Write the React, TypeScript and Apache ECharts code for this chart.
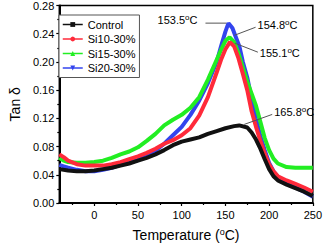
import React, { useEffect, useRef } from 'react';
import * as echarts from 'echarts';

const seriesNames = ['Control', 'Si10-30%', 'Si15-30%', 'Si20-30%'];
const seriesColors = ['#111111', '#ff2a3a', '#22ee22', '#3344ee'];
const seriesSymbols = ['rect', 'circle', 'triangle', 'path://M0,0 L10,0 L5,9 Z'];

const controlT = [-40, -30, -20, -10, 0, 10, 20, 30, 40, 50, 60, 70, 80, 90, 100, 110, 120, 130, 140, 150, 160, 165.8, 175, 180, 185, 190, 195, 200, 205, 210, 220, 230, 240, 250];
const controlV = [0.048, 0.046, 0.045, 0.045, 0.046, 0.048, 0.05, 0.053, 0.056, 0.06, 0.064, 0.069, 0.075, 0.082, 0.087, 0.09, 0.093, 0.098, 0.102, 0.106, 0.109, 0.11, 0.107, 0.1, 0.09, 0.077, 0.062, 0.048, 0.038, 0.032, 0.026, 0.021, 0.016, 0.01];

const si10T = [-40, -35, -30, -20, -10, 0, 10, 20, 30, 40, 50, 60, 70, 80, 90, 100, 110, 120, 130, 140, 145, 150, 155.1, 160, 165, 170, 175, 180, 185, 190, 195, 200, 205, 210, 220, 230, 240, 250];
const si10V = [0.069, 0.065, 0.06, 0.055, 0.053, 0.053, 0.053, 0.055, 0.058, 0.062, 0.066, 0.071, 0.077, 0.084, 0.089, 0.096, 0.106, 0.124, 0.15, 0.185, 0.203, 0.218, 0.228, 0.222, 0.205, 0.183, 0.16, 0.13, 0.108, 0.088, 0.07, 0.055, 0.045, 0.038, 0.032, 0.027, 0.022, 0.016];

const si15T = [-40, -35, -30, -20, -10, 0, 10, 20, 30, 40, 50, 60, 70, 80, 90, 100, 110, 120, 130, 140, 145, 150, 154.8, 160, 165, 170, 175, 180, 185, 190, 195, 200, 205, 210, 220, 230, 250];
const si15V = [0.064, 0.06, 0.058, 0.057, 0.057, 0.058, 0.06, 0.064, 0.069, 0.073, 0.079, 0.088, 0.098, 0.11, 0.118, 0.125, 0.135, 0.15, 0.175, 0.203, 0.217, 0.23, 0.235, 0.228, 0.212, 0.192, 0.172, 0.155, 0.138, 0.115, 0.092, 0.075, 0.063, 0.056, 0.051, 0.05, 0.05];

const si20T = [-40, -35, -30, -20, -10, 0, 10, 20, 30, 40, 50, 60, 70, 80, 90, 100, 110, 120, 130, 140, 145, 150, 153.5, 158, 162, 166, 170, 175, 180, 185, 190, 195, 200, 205, 210, 220, 230, 240, 250];
const si20V = [0.054, 0.052, 0.05, 0.047, 0.045, 0.045, 0.047, 0.05, 0.054, 0.057, 0.061, 0.067, 0.074, 0.084, 0.096, 0.108, 0.125, 0.145, 0.17, 0.2, 0.222, 0.243, 0.255, 0.248, 0.235, 0.222, 0.2, 0.178, 0.148, 0.12, 0.095, 0.075, 0.057, 0.045, 0.037, 0.028, 0.022, 0.016, 0.009];

const xLabelValues = [0, 50, 100, 150, 200, 250];
const xMinorTickValues = [-25, 25, 75, 125, 175, 225];

const peakLabels = ['165.8', '155.1', '154.8', '153.5'];
const peakT = [165.8, 155.1, 154.8, 153.5];
const peakV = [0.11, 0.228, 0.235, 0.255];

const FONT = 'Arial, "Liberation Sans", sans-serif';

function pairs(t: number[], v: number[]) {
  return t.map((x, i) => [x, v[i]]);
}

export default function App() {
  const ref = useRef<HTMLDivElement>(null);
  useEffect(() => {
    document.body.style.margin = '0';
    if (!ref.current) return;
    const chart = echarts.init(ref.current, null, { renderer: 'svg' });
    const allT = [controlT, si10T, si15T, si20T];
    const allV = [controlV, si10V, si15V, si20V];
    const zs = [5, 4, 3, 2];
    const option: any = {
      animation: false,
      backgroundColor: '#ffffff',
      grid: {
        left: 48, top: 5, right: 10, bottom: 43,
        show: true, borderColor: '#000', borderWidth: 1.5,
      },
      legend: {
        left: 59, top: 15, orient: 'vertical',
        itemWidth: 20, itemHeight: 6, itemGap: 1.5,
        padding: [3, 4, 3, 3],
        backgroundColor: '#fff',
        borderColor: '#555', borderWidth: 1,
        lineStyle: { width: 1.5 },
        textStyle: { fontSize: 11, color: '#000', fontFamily: FONT, lineHeight: 13 },
        data: seriesNames,
        z: 20,
      },
      xAxis: [
        {
          type: 'value', min: -40, max: 250, position: 'bottom',
          name: '{a|Temperature (}{s|o}{a|C)}',
          nameLocation: 'middle', nameGap: 24,
          nameTextStyle: {
            rich: {
              a: { fontSize: 14, color: '#000', fontFamily: FONT },
              s: { fontSize: 9, color: '#000', fontFamily: FONT, padding: [0, 0, 7, 0] },
            },
          },
          axisLine: { onZero: false, lineStyle: { color: '#000', width: 2 } },
          axisTick: { customValues: xLabelValues, length: 3, lineStyle: { color: '#000', width: 1.2 } },
          axisLabel: { customValues: xLabelValues, fontSize: 11, color: '#000', fontFamily: FONT, margin: 6 },
          splitLine: { show: false },
        },
        {
          type: 'value', min: -40, max: 250, position: 'bottom',
          axisLine: { show: false, onZero: false },
          axisTick: { customValues: xMinorTickValues, length: 2, lineStyle: { color: '#000', width: 1.2 } },
          axisLabel: { show: false },
          splitLine: { show: false },
        },
      ],
      yAxis: {
        type: 'value', min: 0, max: 0.28, interval: 0.04,
        name: 'Tan δ', nameLocation: 'middle', nameGap: 33,
        nameTextStyle: { fontSize: 14, color: '#000', fontFamily: FONT },
        axisLine: { show: true, onZero: false, lineStyle: { color: '#000', width: 2 } },
        axisTick: { show: true, length: 3, lineStyle: { color: '#000', width: 1.2 } },
        minorTick: { show: true, splitNumber: 2, length: 2, lineStyle: { color: '#000', width: 1.2 } },
        axisLabel: {
          fontSize: 11, color: '#000', fontFamily: FONT, margin: 5,
          formatter: (v: number) => v.toFixed(2),
        },
        splitLine: { show: false },
      },
      series: seriesNames.map((name, i) => ({
        name,
        type: 'line',
        xAxisIndex: 0,
        data: pairs(allT[i], allV[i]),
        showSymbol: false,
        symbol: seriesSymbols[i],
        symbolSize: 6,
        z: zs[i],
        color: seriesColors[i],
        lineStyle: { width: 4, color: seriesColors[i] },
        itemStyle: { color: seriesColors[i] },
      })),
    };
    chart.setOption(option);

    const offsets = [
      { l: [5, -1, 33, -11], t: [35, -13], align: 'left' },
      { l: [5, 1, 28, 10], t: [30, 11], align: 'left' },
      { l: [5, -2, 26, -10], t: [28, -12], align: 'left' },
      { l: [-23, 0, -2, 0], t: [-31, -3], align: 'right' },
    ];
    const graphic: any[] = [];
    peakLabels.forEach((lab, i) => {
      const p = chart.convertToPixel({ xAxisIndex: 0, yAxisIndex: 0 }, [peakT[i], peakV[i]]) as number[];
      const o = offsets[i];
      graphic.push({
        type: 'line', z: 100,
        shape: { x1: p[0] + o.l[0], y1: p[1] + o.l[1], x2: p[0] + o.l[2], y2: p[1] + o.l[3] },
        style: { stroke: '#555', lineWidth: 1 },
      });
      graphic.push({
        type: 'text', z: 100,
        x: p[0] + o.t[0], y: p[1] + o.t[1],
        style: {
          text: `{a|${lab}}{s|o}{a|C}`,
          align: o.align, verticalAlign: 'middle',
          rich: {
            a: { fontSize: 11, fill: '#000', fontFamily: FONT },
            s: { fontSize: 8, fill: '#000', fontFamily: FONT, padding: [0, 0, 6, 0] },
          },
        },
      });
    });
    chart.setOption({ graphic });
    return () => chart.dispose();
  }, []);
  return <div ref={ref} style={{ width: 325, height: 247 }} />;
}
